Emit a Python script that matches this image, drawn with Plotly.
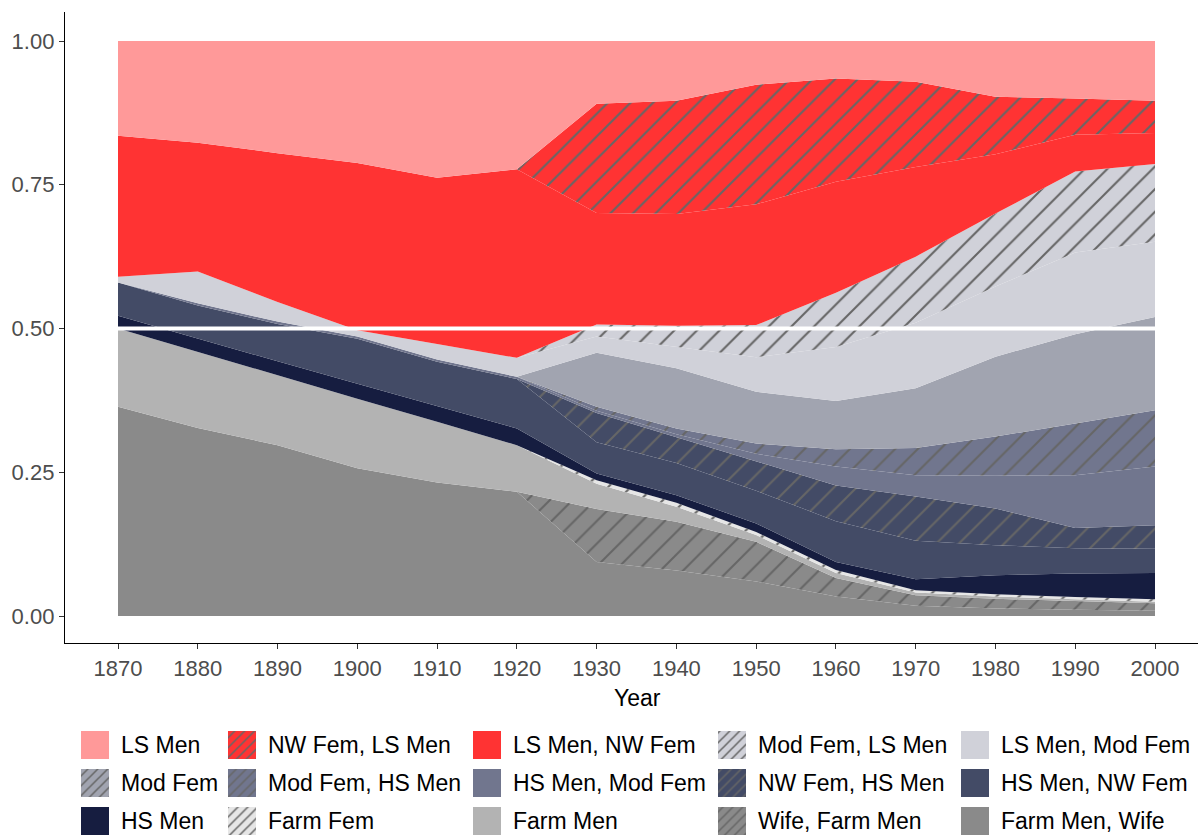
import plotly.graph_objects as go

W, H = 1198, 836

# ---------------- data ----------------
years = [1870, 1880, 1890, 1900, 1910, 1920, 1930, 1940, 1950, 1960, 1970, 1980, 1990, 2000]

farm_men_wife   = [0.364, 0.327, 0.297, 0.257, 0.232, 0.216, 0.094, 0.079, 0.060, 0.034, 0.018, 0.013, 0.011, 0.009]
wife_farm_men   = [0.000, 0.000, 0.000, 0.000, 0.000, 0.000, 0.092, 0.085, 0.069, 0.032, 0.018, 0.017, 0.015, 0.013]
farm_men        = [0.136, 0.132, 0.121, 0.121, 0.106, 0.081, 0.044, 0.026, 0.012, 0.009, 0.005, 0.004, 0.003, 0.003]
farm_fem        = [0.000, 0.000, 0.000, 0.000, 0.000, 0.000, 0.006, 0.007, 0.005, 0.005, 0.004, 0.004, 0.004, 0.004]
hs_men          = [0.022, 0.023, 0.025, 0.026, 0.027, 0.029, 0.012, 0.013, 0.015, 0.014, 0.019, 0.033, 0.041, 0.046]
hs_men_nw_fem   = [0.058, 0.058, 0.065, 0.078, 0.077, 0.086, 0.054, 0.056, 0.057, 0.071, 0.067, 0.052, 0.044, 0.042]
nw_fem_hs_men   = [0.000, 0.000, 0.000, 0.000, 0.000, 0.000, 0.051, 0.045, 0.050, 0.062, 0.077, 0.064, 0.035, 0.041]
hs_men_mod_fem  = [0.000, 0.004, 0.004, 0.004, 0.004, 0.004, 0.004, 0.005, 0.014, 0.033, 0.037, 0.057, 0.092, 0.102]
mod_fem_hs_men  = [0.000, 0.000, 0.000, 0.000, 0.000, 0.000, 0.007, 0.010, 0.018, 0.030, 0.047, 0.068, 0.090, 0.098]
mod_fem         = [0.000, 0.000, 0.000, 0.000, 0.000, 0.000, 0.094, 0.105, 0.090, 0.084, 0.104, 0.139, 0.155, 0.162]
ls_men_mod_fem  = [0.010, 0.055, 0.034, 0.011, 0.027, 0.033, 0.028, 0.037, 0.060, 0.094, 0.114, 0.122, 0.142, 0.131]
mod_fem_ls_men  = [0.000, 0.000, 0.000, 0.000, 0.000, 0.000, 0.021, 0.037, 0.056, 0.094, 0.115, 0.127, 0.141, 0.135]
ls_men_nw_fem   = [0.245, 0.224, 0.259, 0.291, 0.289, 0.328, 0.194, 0.194, 0.210, 0.193, 0.156, 0.103, 0.064, 0.054]
nw_fem_ls_men   = [0.000, 0.000, 0.000, 0.000, 0.000, 0.000, 0.190, 0.197, 0.208, 0.180, 0.148, 0.100, 0.063, 0.056]
ls_men          = [0.165, 0.177, 0.195, 0.212, 0.238, 0.223, 0.109, 0.104, 0.076, 0.065, 0.071, 0.097, 0.100, 0.104]

# stacking order, bottom to top
categories = ["Farm Men, Wife", "Wife, Farm Men", "Farm Men", "Farm Fem", "HS Men",
              "HS Men, NW Fem", "NW Fem, HS Men", "HS Men, Mod Fem", "Mod Fem, HS Men",
              "Mod Fem", "LS Men, Mod Fem", "Mod Fem, LS Men", "LS Men, NW Fem",
              "NW Fem, LS Men", "LS Men"]
series = [farm_men_wife, wife_farm_men, farm_men, farm_fem, hs_men,
          hs_men_nw_fem, nw_fem_hs_men, hs_men_mod_fem, mod_fem_hs_men,
          mod_fem, ls_men_mod_fem, mod_fem_ls_men, ls_men_nw_fem,
          nw_fem_ls_men, ls_men]

reference_line = 0.5
y_ticks = [0.0, 0.25, 0.5, 0.75, 1.0]
y_tick_labels = ["0.00", "0.25", "0.50", "0.75", "1.00"]
x_title = "Year"

# ---------------- styles ----------------
colors = {
    "LS Men": "#FF9999",
    "NW Fem, LS Men": "#FF3333",
    "LS Men, NW Fem": "#FF3333",
    "Mod Fem, LS Men": "#D0D1D9",
    "LS Men, Mod Fem": "#D0D1D9",
    "Mod Fem": "#A1A4B0",
    "Mod Fem, HS Men": "#71768E",
    "HS Men, Mod Fem": "#71768E",
    "NW Fem, HS Men": "#434B66",
    "HS Men, NW Fem": "#434B66",
    "HS Men": "#161D40",
    "Farm Fem": "#E6E6E6",
    "Farm Men": "#B3B3B3",
    "Wife, Farm Men": "#8A8A8A",
    "Farm Men, Wife": "#8A8A8A",
}
hatched_plot = {"NW Fem, LS Men", "Mod Fem, LS Men", "Mod Fem, HS Men",
                "NW Fem, HS Men", "Farm Fem", "Wife, Farm Men"}
hatched_legend = hatched_plot | {"Mod Fem"}
HATCH = "#666666"
FONT = "Liberation Sans, Arial, sans-serif"

# pixel geometry of the panel
PL, PR, PT, PB = 65, 1198, 12, 643
X0PX, X1PX = 118, 1155          # 1870, 2000
Y1PX, Y0PX = 41, 616            # 1.0, 0.0
ppy = (X1PX - X0PX) / (years[-1] - years[0])
x_range = [years[0] - (X0PX - PL) / ppy, years[0] + (PR - X0PX) / ppy]
ppu = (Y0PX - Y1PX)
y_range = [-(PB - Y0PX) / ppu, 1 + (Y1PX - PT) / ppu]

fig = go.Figure()

for name, vals in zip(categories, series):
    c = colors[name]
    kw = dict(x=years, y=vals, name=name, mode="lines", stackgroup="one",
              line=dict(width=0, color=c), fillcolor=c, showlegend=False,
              hoverinfo="skip", xaxis="x", yaxis="y")
    if name in hatched_plot:
        kw["fillpattern"] = dict(shape="/", fgcolor=HATCH, bgcolor=c, size=16,
                                 solidity=0.13, fillmode="replace")
    fig.add_trace(go.Scatter(**kw))

fig.add_shape(type="line", xref="x", yref="y", x0=years[0], x1=years[-1],
              y0=reference_line, y1=reference_line,
              line=dict(color="white", width=4), layer="above")

# ---------------- legend (custom, 5 columns x 3 rows) ----------------
legend_order = categories[::-1]
KEY = 28
key_x = [81, 228, 473, 718, 961]
row_y = [745, 783, 821]
LEG_D = 0.2
for i, name in enumerate(legend_order):
    r, cidx = divmod(i, 5)
    x0 = key_x[cidx]
    yc = row_y[r]
    c = colors[name]
    kw = dict(x=[x0, x0 + KEY, x0 + KEY, x0, x0],
              y=[yc - KEY / 2, yc - KEY / 2, yc + KEY / 2, yc + KEY / 2, yc - KEY / 2],
              mode="lines", fill="toself", line=dict(width=0, color=c), fillcolor=c,
              showlegend=False, hoverinfo="skip", xaxis="x2", yaxis="y2")
    if name in hatched_legend:
        kw["fillpattern"] = dict(shape="/", fgcolor=HATCH, bgcolor=c, size=7,
                                 solidity=0.22, fillmode="replace")
    fig.add_trace(go.Scatter(**kw))
    fig.add_annotation(text=name, x=(x0 + KEY + 10) / W, y=1 - yc / H,
                       xref="paper", yref="paper", xanchor="left", yanchor="middle",
                       showarrow=False, font=dict(size=23, color="black", family=FONT))

fig.add_annotation(text=x_title, x=637 / W, y=1 - 698 / H, xref="paper", yref="paper",
                   xanchor="center", yanchor="middle", showarrow=False,
                   font=dict(size=23, color="black", family=FONT))

fig.update_layout(
    width=W, height=H,
    margin=dict(l=0, r=0, t=0, b=0),
    paper_bgcolor="white", plot_bgcolor="white",
    font=dict(family=FONT),
    showlegend=False,
    xaxis=dict(domain=[PL / W, PR / W], range=x_range, tickmode="array", tickvals=years,
               ticktext=[str(y) for y in years], showgrid=False, zeroline=False,
               showline=True, linecolor="black", linewidth=1.3,
               ticks="outside", ticklen=5, tickwidth=1.2, tickcolor="#333333",
               tickfont=dict(size=22, color="#4D4D4D", family=FONT),
               automargin=False, anchor="y", fixedrange=True),
    yaxis=dict(domain=[1 - PB / H, 1 - PT / H], range=y_range, tickmode="array",
               tickvals=y_ticks, ticktext=y_tick_labels, showgrid=False, zeroline=False,
               showline=True, linecolor="black", linewidth=1.3,
               ticks="outside", ticklen=5, tickwidth=1.2, tickcolor="#333333",
               tickfont=dict(size=22, color="#4D4D4D", family=FONT),
               automargin=False, anchor="x", fixedrange=True),
    xaxis2=dict(domain=[0, 1], range=[0, W], visible=False, anchor="y2", fixedrange=True),
    yaxis2=dict(domain=[0, LEG_D], range=[H, H * (1 - LEG_D)], visible=False,
                anchor="x2", fixedrange=True),
)

fig.write_html(
    "out.html",
    config={"displayModeBar": False},
    post_script="document.body.style.margin='0';document.body.style.overflow='hidden';",
)
